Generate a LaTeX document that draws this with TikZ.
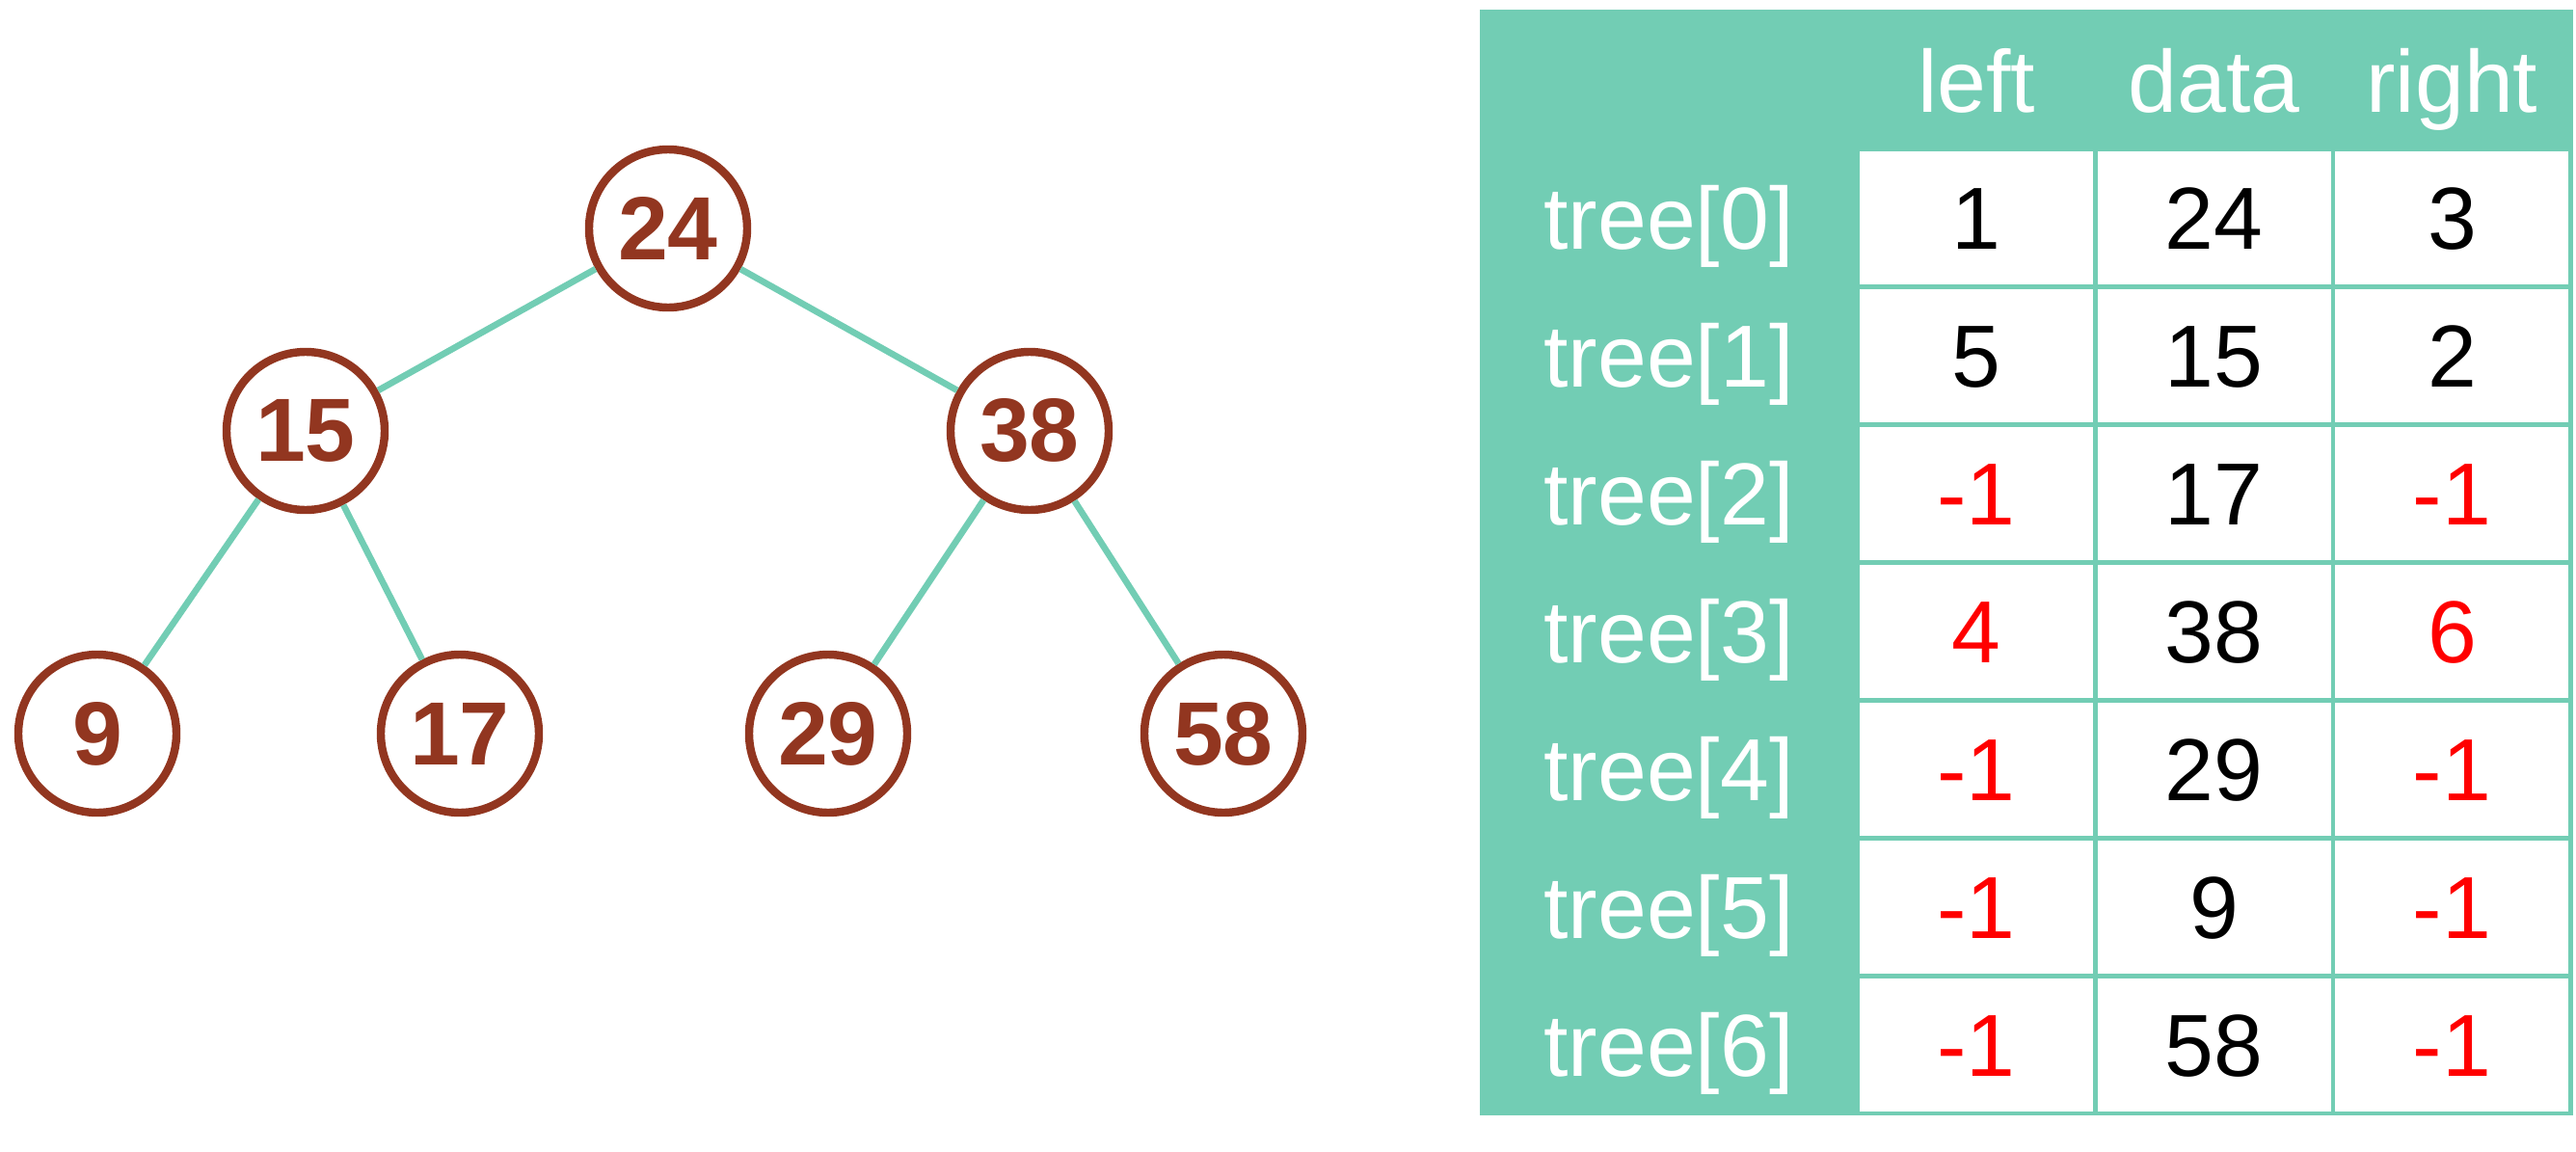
\documentclass[tikz,border=0pt]{standalone}
\usepackage{fontspec}
\setmainfont{Liberation Sans}
\usepackage{tikz}
\usetikzlibrary{positioning}
\definecolor{treeteal}{RGB}{114,205,180}
\definecolor{nodebrown}{RGB}{146,54,32}
\tikzstyle{treenode} = [circle, draw=nodebrown, line width=2.4pt,
    minimum size=1.64cm, inner sep=0pt, text=nodebrown,
    font=\fontsize{26.5}{30}\selectfont\bfseries]
\tikzstyle{head} = [text=white, inner sep=0pt,
    text height=18.6pt, text depth=0pt, font=\fontsize{26}{30}\selectfont]
\tikzstyle{cell} = [rectangle, fill=white, inner sep=0pt,
    minimum width=2.42cm, minimum height=1.385cm,
    text height=18.6pt, text depth=0pt, font=\fontsize{26}{30}\selectfont]
\tikzstyle{redcell} = [cell, text=red]
\tikzstyle{line} = [draw=treeteal, line width=1.9pt]

\begin{document}
\begin{tikzpicture}[on grid, auto]
    \useasboundingbox (0,0) rectangle (26.72,-11.95);
    % Place nodes
    \node [treenode] (node24) at (6.93,-2.37) {24};
    \node [treenode, below left=2.10cm and 3.76cm of node24] (node15) {15};
    \node [treenode, below right=2.10cm and 3.75cm of node24] (node38) {38};
    \node [treenode, below left=3.14cm and 2.16cm of node15] (node9) {9};
    \node [treenode, below right=3.14cm and 1.60cm of node15] (node17) {17};
    \node [treenode, below left=3.14cm and 2.09cm of node38] (node29) {29};
    \node [treenode, below right=3.14cm and 2.01cm of node38] (node58) {58};

    \path [line] (node24) -- (node15);
    \path [line] (node24) -- (node38);
    \path [line] (node15) -- (node9);
    \path [line] (node15) -- (node17);
    \path [line] (node38) -- (node29);
    \path [line] (node38) -- (node58);

    % the array
    \fill [treeteal] (15.35,-0.10) rectangle (26.69,-11.57);
    \node [head] (hleft) at (20.50,-0.84) {left};
    \node [head, right=2.467cm of hleft] (hdata) {data};
    \node [head, right=2.467cm of hdata] (hright) {right};

    \node [head] (tree0) at (17.31,-2.26) {tree[0]};
    \node [head, below=1.43cm of tree0] (tree1) {tree[1]};
    \node [head, below=1.43cm of tree1] (tree2) {tree[2]};
    \node [head, below=1.43cm of tree2] (tree3) {tree[3]};
    \node [head, below=1.43cm of tree3] (tree4) {tree[4]};
    \node [head, below=1.43cm of tree4] (tree5) {tree[5]};
    \node [head, below=1.43cm of tree5] (tree6) {tree[6]};

    \node [cell, right=3.19cm of tree0] (left0) {1};
    \node [cell, right=2.467cm of left0] (data0) {24};
    \node [cell, right=2.467cm of data0] (right0) {3};
    \node [cell, right=3.19cm of tree1] (left1) {5};
    \node [cell, right=2.467cm of left1] (data1) {15};
    \node [cell, right=2.467cm of data1] (right1) {2};
    \node [redcell, right=3.19cm of tree2] (left2) {-1};
    \node [cell, right=2.467cm of left2] (data2) {17};
    \node [redcell, right=2.467cm of data2] (right2) {-1};
    \node [redcell, right=3.19cm of tree3] (left3) {4};
    \node [cell, right=2.467cm of left3] (data3) {38};
    \node [redcell, right=2.467cm of data3] (right3) {6};
    \node [redcell, right=3.19cm of tree4] (left4) {-1};
    \node [cell, right=2.467cm of left4] (data4) {29};
    \node [redcell, right=2.467cm of data4] (right4) {-1};
    \node [redcell, right=3.19cm of tree5] (left5) {-1};
    \node [cell, right=2.467cm of left5] (data5) {9};
    \node [redcell, right=2.467cm of data5] (right5) {-1};
    \node [redcell, right=3.19cm of tree6] (left6) {-1};
    \node [cell, right=2.467cm of left6] (data6) {58};
    \node [redcell, right=2.467cm of data6] (right6) {-1};
\end{tikzpicture}
\end{document}
